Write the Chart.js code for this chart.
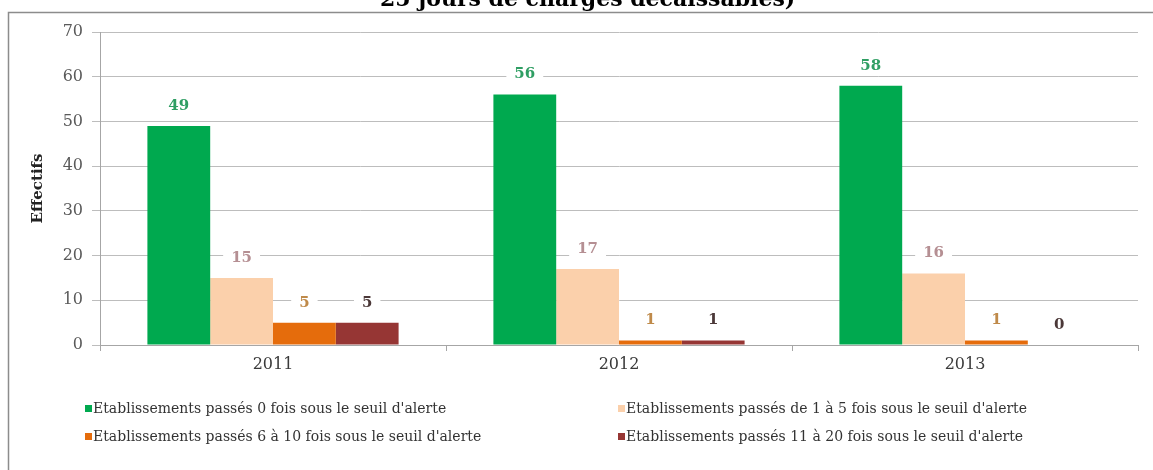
<!DOCTYPE html>
<html>
<head>
<meta charset="utf-8">
<script src="https://cdn.jsdelivr.net/npm/chart.js@4"></script>
<style>
html,body{margin:0;padding:0;background:#fff;}
#wrap{position:relative;width:1153px;height:470px;overflow:hidden;}
</style>
</head>
<body>
<div id="wrap"><canvas id="c"></canvas></div>
<script>
const categories = ['2011', '2012', '2013'];
const seriesNames = [
  "Etablissements passés 0 fois sous le seuil d'alerte",
  "Etablissements passés de 1 à 5 fois sous le seuil d'alerte",
  "Etablissements passés 6 à 10 fois sous le seuil d'alerte",
  "Etablissements passés 11 à 20 fois sous le seuil d'alerte"
];
const fois0 = [49, 56, 58];
const fois1a5 = [15, 17, 16];
const fois6a10 = [5, 1, 1];
const fois11a20 = [5, 1, 0];
const yTicks = [0, 10, 20, 30, 40, 50, 60, 70];
const titleText = '25 jours de charges décaissables)';
const yTitle = 'Effectifs';

const barColors = ['#00a94f', '#fbd0ab', '#e56c0c', '#963634'];
const labelColors = ['#2f9e63', '#b58f93', '#bf8a4a', '#4b3838'];
const SERIF = '"DejaVu Serif", "Liberation Serif", serif';

const frameAndTitle = {
  id: 'frameAndTitle',
  beforeDraw(chart) {
    const ctx = chart.ctx;
    ctx.save();
    ctx.fillStyle = '#fff';
    ctx.fillRect(0, 0, chart.width, chart.height);
    ctx.strokeStyle = '#8c8c8c';
    ctx.lineWidth = 1.5;
    ctx.strokeRect(8.5, 12.5, 1170, 480);
    ctx.fillStyle = '#000';
    ctx.font = 'bold 22px ' + SERIF;
    ctx.textAlign = 'left';
    ctx.textBaseline = 'alphabetic';
    ctx.fillText(titleText, 380, 6);
    ctx.restore();
  }
};

const valueLabels = {
  id: 'valueLabels',
  afterDatasetsDraw(chart) {
    const ctx = chart.ctx;
    ctx.save();
    ctx.font = 'bold 15px ' + SERIF;
    ctx.textAlign = 'center';
    ctx.textBaseline = 'middle';
    chart.data.datasets.forEach((ds, di) => {
      const meta = chart.getDatasetMeta(di);
      meta.data.forEach((bar, i) => {
        const txt = String(ds.data[i]);
        const y = bar.y - 20;
        const w = ctx.measureText(txt).width + 16;
        ctx.fillStyle = '#fff';
        ctx.fillRect(bar.x - w / 2, y - 8, w, 16);
        ctx.fillStyle = labelColors[di];
        ctx.fillText(txt, bar.x, y);
      });
    });
    ctx.restore();
  }
};

const customLegend = {
  id: 'customLegend',
  afterDraw(chart) {
    const ctx = chart.ctx;
    ctx.save();
    ctx.font = '14px ' + SERIF;
    ctx.textBaseline = 'middle';
    ctx.textAlign = 'left';
    const colX = [85, 618];
    const rowY = [409, 437];
    chart.data.datasets.forEach((ds, di) => {
      const x = colX[di % 2];
      const y = rowY[Math.floor(di / 2)];
      ctx.fillStyle = ds.backgroundColor;
      ctx.fillRect(x, y - 4, 7, 7);
      ctx.fillStyle = '#333';
      ctx.fillText(ds.label, x + 8, y);
    });
    ctx.restore();
  }
};

const datasets = [fois0, fois1a5, fois6a10, fois11a20].map((d, i) => ({
  label: seriesNames[i],
  data: d,
  backgroundColor: barColors[i],
  borderWidth: 0,
  categoryPercentage: 0.726,
  barPercentage: 1.0
}));

new Chart(document.getElementById('c'), {
  type: 'bar',
  data: { labels: categories, datasets },
  options: {
    responsive: true,
    maintainAspectRatio: false,
    animation: false,
    layout: { padding: { top: 32, right: 15, left: 0, bottom: 0 } },
    plugins: {
      legend: { display: false },
      title: { display: false },
      tooltip: { enabled: false }
    },
    scales: {
      x: {
        offset: true,
        grid: { display: true, drawOnChartArea: false, tickLength: 6, color: '#a6a6a6', offset: true },
        border: { color: '#a6a6a6' },
        ticks: { color: '#3a3a3a', font: { family: SERIF, size: 16 }, padding: 4 },
        afterFit(s) { s.height = 125; }
      },
      y: {
        min: 0, max: 70,
        afterBuildTicks(s) { s.ticks = yTicks.map(v => ({ value: v })); },
        grid: { color: '#bdbdbd', tickLength: 8, lineWidth: 1 },
        border: { color: '#a6a6a6' },
        ticks: { color: '#5a5a5a', font: { family: SERIF, size: 16 }, padding: 9 },
        title: { display: true, text: yTitle, color: '#222', font: { family: SERIF, size: 15, weight: 'bold' }, padding: { top: 29 } },
        afterFit(s) { s.width = 100; }
      }
    }
  },
  plugins: [frameAndTitle, valueLabels, customLegend]
});
</script>
</body>
</html>
